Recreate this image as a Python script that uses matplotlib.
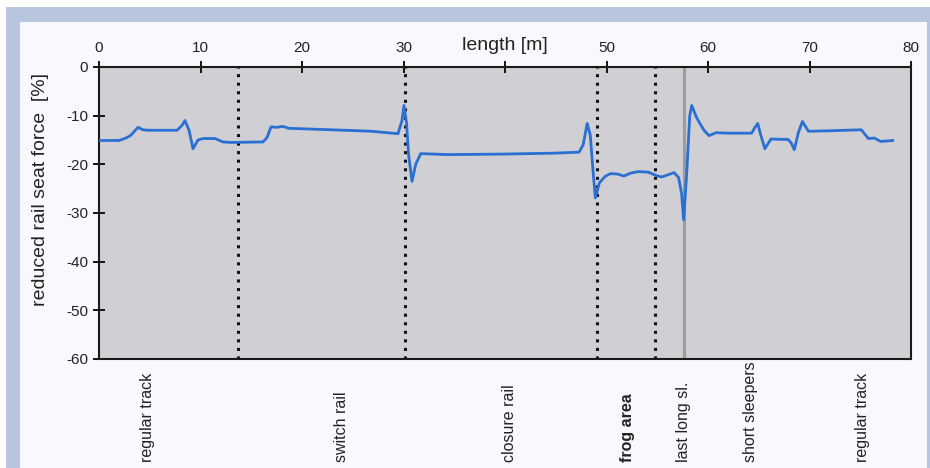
import numpy as np
import matplotlib
matplotlib.use("Agg")
from matplotlib import pyplot as plt
from matplotlib import patches as mpatches
from matplotlib import transforms as mtransforms

plt.rcParams['font.family'] = ['Liberation Sans', 'DejaVu Sans']
plt.rcParams['axes.unicode_minus'] = False

# Reduced rail seat force along the turnout
dist_m = [0.0, 1.97, 2.66, 3.15, 3.84, 4.33, 4.83, 7.68, 8.18, 8.47, 8.87, 9.26,
          9.75, 10.25, 11.43, 12.2, 13.0, 16.16, 16.55, 16.95, 17.5, 18.1, 18.7,
          22.9, 26.8, 29.46, 29.85, 30.05, 30.3, 30.5, 30.84, 31.2, 31.7, 34.4,
          39.6, 45.0, 47.3, 47.7, 48.1, 48.4, 48.7, 48.9, 49.3, 49.85, 50.4,
          51.1, 51.7, 52.4, 53.1, 54.1, 54.9, 55.4, 56.0, 56.65, 57.1, 57.4,
          57.6, 57.9, 58.2, 58.4, 58.9, 59.6, 60.1, 60.8, 62.0, 64.3, 64.6,
          64.9, 65.2, 65.6, 66.2, 67.9, 68.2, 68.5, 68.9, 69.3, 69.9, 72.1,
          75.1, 75.8, 76.4, 77.0, 78.2]
force_pct = [-15.1, -15.1, -14.6, -14.0, -12.4, -12.9, -13.0, -13.0, -12.0, -11.0,
             -13.0, -16.8, -15.0, -14.7, -14.7, -15.4, -15.5, -15.4, -14.5, -12.3,
             -12.4, -12.2, -12.6, -12.9, -13.2, -13.7, -11.0, -7.9, -11.5, -18.0,
             -23.5, -20.0, -17.8, -18.0, -17.9, -17.7, -17.5, -16.0, -11.6, -14.0,
             -22.0, -26.9, -23.8, -22.5, -21.9, -22.0, -22.4, -21.8, -21.5, -21.6,
             -22.3, -22.6, -22.2, -21.7, -22.7, -26.0, -31.4, -22.0, -10.0, -7.9,
             -10.5, -13.0, -14.1, -13.5, -13.6, -13.6, -12.5, -11.6, -14.0, -16.8,
             -14.8, -14.9, -15.6, -17.0, -13.5, -11.2, -13.2, -13.1, -12.9, -14.7,
             -14.6, -15.3, -15.1]

zone_edges = [13.7, 30.1, 49.1, 54.8]
last_long_sleeper = 57.6

zone_labels = ["regular track", "switch rail", "closure rail", "frog area",
               "last long sl.", "short sleepers", "regular track"]
zone_centers = [4.8, 23.9, 40.4, 52.1, 57.6, 64.2, 75.2]

x_ticks = [0, 10, 20, 30, 40, 50, 60, 70, 80]
x_tick_labels = ["0", "10", "20", "30", "length [m]", "50", "60", "70", "80"]
y_ticks = [0, -10, -20, -30, -40, -50, -60]

W, H = 930, 468
fig = plt.figure(figsize=(W / 100, H / 100), dpi=100)
fig.patch.set_facecolor("white")

# page frame: light inner panel with blue bands
def px_rect(x0, y0, x1, y1, color):
    r = mpatches.Rectangle((x0 / W, 1 - y1 / H), (x1 - x0) / W, (y1 - y0) / H,
                           transform=fig.transFigure, facecolor=color,
                           edgecolor="none", zorder=-10)
    fig.patches.append(r)

px_rect(6, 7, W, H, "#f8f9fd")
px_rect(6, 7, W, 22, "#b8c5de")
px_rect(6, 7, 20, H, "#b8c5de")
px_rect(927, 7, W, H, "#b8c5de")

ax = fig.add_axes([99 / W, 1 - 359 / H, (911 - 99) / W, (359 - 67) / H])
ax.set_zorder(1)
ax.set_facecolor("#d0d0d4")

for xe in zone_edges:
    ax.axvline(xe, color="#111111", lw=2.2, linestyle=(0, (1, 1.8)), zorder=2)
ax.axvline(last_long_sleeper, color="#9c9c9c", lw=2.2, zorder=2)

ax.plot(dist_m, force_pct, color="#2a6fd2", lw=2.0, zorder=3,
        solid_joinstyle="round")

ax.set_xlim(0, 80)
ax.set_ylim(-60, 0)
ax.xaxis.tick_top()
ax.set_xticks(x_ticks)
ax.set_xticklabels(x_tick_labels)
ax.set_yticks(y_ticks)
ax.tick_params(axis="both", direction="inout", length=8, width=1.4,
               colors="#111111", labelsize=11, labelcolor="#222222")
ax.tick_params(axis="x", pad=5)
ax.tick_params(axis="y", pad=4)
for lbl in ax.get_xticklabels():
    if lbl.get_text() == "length [m]":
        lbl.set_fontsize(14)

for s in ax.spines.values():
    s.set_color("#1a1a1a")
    s.set_linewidth(1.5)

ax.set_ylabel("reduced rail seat force  [%]", fontsize=14, color="#222222")
ax.yaxis.set_label_coords(-0.062, 0.58)

trans = mtransforms.blended_transform_factory(ax.transData, ax.transAxes)
for xc, txt in zip(zone_centers, zone_labels):
    ax.text(xc, -0.353, txt, transform=trans, rotation=90, ha="center",
            va="bottom", fontsize=11.5, color="#222222",
            fontweight="bold" if txt == "frog area" else "normal")

fig.savefig("out.png", dpi=100)
